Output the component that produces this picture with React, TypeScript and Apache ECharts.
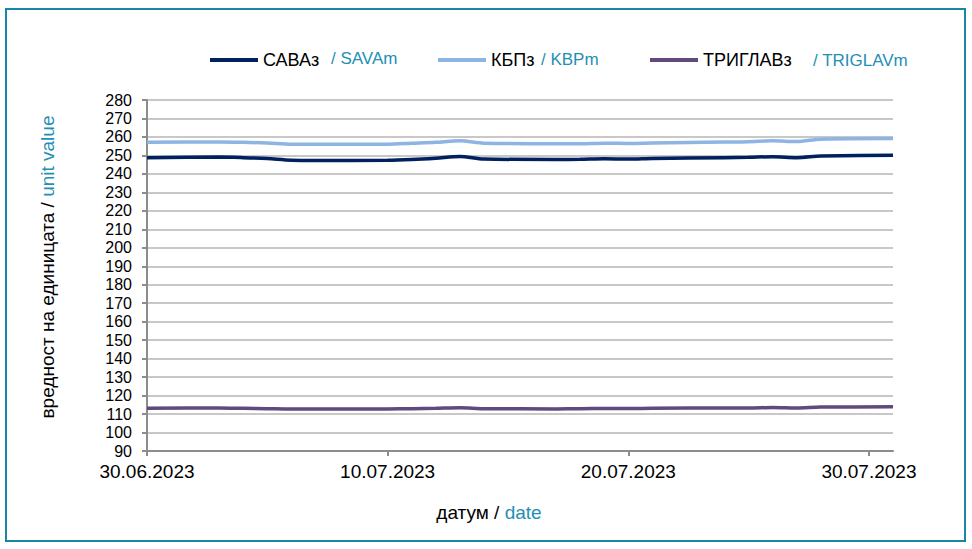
import React, { useEffect, useRef } from "react";
import * as echarts from "echarts";

const dates = [
  "30.06.2023", "03.07.2023", "04.07.2023", "05.07.2023", "06.07.2023", "07.07.2023",
  "10.07.2023", "11.07.2023", "12.07.2023", "13.07.2023", "14.07.2023",
  "17.07.2023", "18.07.2023", "19.07.2023", "20.07.2023", "21.07.2023",
  "24.07.2023", "25.07.2023", "26.07.2023", "27.07.2023", "28.07.2023", "31.07.2023",
];
const sava = [248.7, 249.1, 248.8, 248.3, 247.4, 247.3, 247.4, 247.8, 248.5, 249.4, 248.0, 247.8, 247.9, 248.2, 248.0, 248.3, 248.8, 249.0, 249.3, 248.8, 249.7, 250.1];
const kbp = [257.1, 257.3, 257.1, 256.7, 256.0, 256.0, 256.1, 256.6, 257.1, 257.9, 256.6, 256.3, 256.3, 256.6, 256.5, 256.7, 257.2, 257.4, 257.9, 257.5, 258.8, 259.1];
const triglav = [113.2, 113.3, 113.1, 112.9, 112.7, 112.7, 112.8, 112.9, 113.1, 113.4, 112.9, 112.8, 112.9, 113.0, 113.0, 113.1, 113.3, 113.3, 113.6, 113.3, 113.8, 113.9];
const xTickLabels = ["30.06.2023", "10.07.2023", "20.07.2023", "30.07.2023"];
const seriesNames = ["САВАз", "КБПз", "ТРИГЛАВз"];
const seriesNamesEn = ["/ SAVAm", "/ KBPm", "/ TRIGLAVm"];
const yMin = 90;
const yMax = 280;
const yStep = 10;

function dayIndex(s: string): number {
  const [d, m, y] = s.split(".").map(Number);
  const [d0, m0, y0] = dates[0].split(".").map(Number);
  return Math.round((Date.UTC(y, m - 1, d) - Date.UTC(y0, m0 - 1, d0)) / 86400000);
}

const FONT = "Liberation Sans, Arial, sans-serif";
const TEAL = "#1f8fb5";
const colors = ["#002060", "#8db4e2", "#604a7b"];

export default function App() {
  const ref = useRef<HTMLDivElement>(null);
  useEffect(() => {
    document.body.style.margin = "0";
    const chart = echarts.init(ref.current!, null, { renderer: "svg" });
    const tickDays = xTickLabels.map(dayIndex);
    const lastDay = dayIndex(dates[dates.length - 1]);
    const mk = (vals: number[]) => dates.map((d, i) => [dayIndex(d), vals[i]]);
    const legendLefts = [205, 433, 645];
    const enPos = [
      [331, 58],
      [541, 59],
      [813, 60],
    ];
    chart.setOption({
      animation: false,
      color: colors,
      grid: { left: 147, right: 79, top: 100, bottom: 98 },
      legend: seriesNames.map((n, i) => ({
        data: [n],
        left: legendLefts[i],
        top: 46,
        icon: "rect",
        itemWidth: 48,
        itemHeight: 4,
        textStyle: { fontSize: 18, color: "#000", fontFamily: FONT, lineHeight: 18 },
      })),
      xAxis: {
        type: "value",
        min: 0,
        max: lastDay,
        interval: 10,
        axisLine: { show: true, lineStyle: { color: "#8c8c8c", width: 2 } },
        axisTick: { show: true, length: 5, customValues: tickDays, lineStyle: { color: "#8c8c8c", width: 2 } },
        axisLabel: {
          customValues: tickDays,
          margin: 11,
          fontSize: 19,
          color: "#000",
          fontFamily: FONT,
          formatter: (v: number) => {
            const i = tickDays.indexOf(Math.round(v));
            return i >= 0 ? xTickLabels[i] : "";
          },
        },
        splitLine: { show: false },
      },
      yAxis: {
        type: "value",
        min: yMin,
        max: yMax,
        interval: yStep,
        axisLine: { show: true, lineStyle: { color: "#8c8c8c", width: 2 } },
        axisTick: { show: true, length: 5, lineStyle: { color: "#8c8c8c", width: 2 } },
        axisLabel: { margin: 15, fontSize: 16, color: "#000", fontFamily: FONT },
        splitLine: { show: true, lineStyle: { color: "#c8c8c8", width: 2 } },
      },
      series: [sava, kbp, triglav].map((vals, i) => ({
        name: seriesNames[i],
        type: "line",
        data: mk(vals),
        showSymbol: false,
        symbol: "none",
        smooth: 0.3,
        lineStyle: { width: 3.5, color: colors[i] },
        itemStyle: { color: colors[i] },
      })),
      graphic: [
        {
          type: "rect",
          shape: { x: 6, y: 9, width: 959, height: 532 },
          style: { fill: "none", stroke: "#1a86a6", lineWidth: 2 },
          silent: true,
        },
        ...seriesNamesEn.map((t, i) => ({
          type: "text",
          x: enPos[i][0],
          y: enPos[i][1],
          style: { text: t, fill: TEAL, fontSize: 17, fontFamily: FONT, verticalAlign: "middle" },
        })),
        {
          type: "text",
          x: 489,
          y: 512,
          style: {
            text: "{a|датум / }{b|date}",
            align: "center",
            verticalAlign: "middle",
            rich: {
              a: { fill: "#000", fontSize: 19, fontFamily: FONT },
              b: { fill: TEAL, fontSize: 19, fontFamily: FONT },
            },
          },
        },
        {
          type: "text",
          x: 47,
          y: 267,
          rotation: Math.PI / 2,
          style: {
            text: "{a|вредност на единицата / }{b|unit value}",
            align: "center",
            verticalAlign: "middle",
            rich: {
              a: { fill: "#000", fontSize: 19, fontFamily: FONT },
              b: { fill: TEAL, fontSize: 19, fontFamily: FONT },
            },
          },
        },
      ],
    });
    return () => chart.dispose();
  }, []);
  return <div ref={ref} style={{ width: 972, height: 549 }} />;
}
